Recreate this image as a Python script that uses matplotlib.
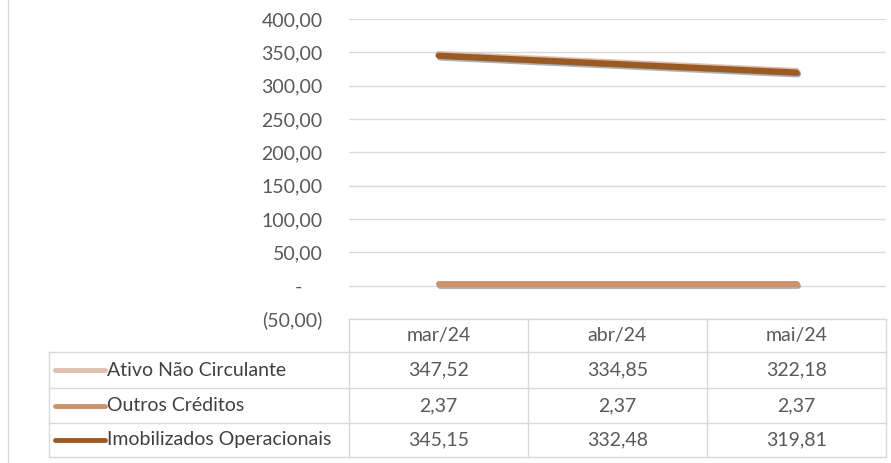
import matplotlib.pyplot as plt
import matplotlib.patheffects as pe
from matplotlib.ticker import FuncFormatter

plt.rcParams['font.family'] = ['Lato', 'DejaVu Sans']

meses = ['mar/24', 'abr/24', 'mai/24']
series = ['Ativo Não Circulante', 'Outros Créditos', 'Imobilizados Operacionais']
ativo_nao_circulante = [347.52, 334.85, 322.18]
outros_creditos = [2.37, 2.37, 2.37]
imobilizados = [345.15, 332.48, 319.81]
valores = [ativo_nao_circulante, outros_creditos, imobilizados]
cores = ['#DFBFAD', '#CC926E', '#9C5A23']

W, H = 891, 463
FS = 14
fig = plt.figure(figsize=(W / 100, H / 100), dpi=100)

# area do grafico (pixels)
x0, x1 = 349, 886
y_top, y_bot = 19, 319
ax = fig.add_axes([x0 / W, 1 - y_bot / H, (x1 - x0) / W, (y_bot - y_top) / H])

x = range(len(meses))
for vals, cor in zip(valores, cores):
    ax.plot(x, vals, color=cor, lw=4.3, solid_capstyle='round', zorder=3,
            path_effects=[pe.SimpleLineShadow(offset=(1, -1.5), shadow_color='#000000', alpha=0.3),
                          pe.Normal()])

ax.set_xlim(-0.5, len(meses) - 0.5)
ax.set_ylim(-50, 400)
ax.set_yticks(range(-50, 401, 50))


def fmt(v, pos):
    if v == 0:
        return '-    '
    s = f'{abs(v):,.2f}'.replace(',', 'X').replace('.', ',').replace('X', '.')
    return f'({s})' if v < 0 else s


ax.yaxis.set_major_formatter(FuncFormatter(fmt))
ax.tick_params(axis='y', length=0, pad=19, labelsize=FS, labelcolor='#595959')
ax.set_xticks([])
ax.grid(axis='y', color='#D9D9D9', lw=1)
ax.set_axisbelow(True)
for s in ax.spines.values():
    s.set_visible(False)

# tabela de dados
tab = fig.add_axes([0, 0, 1, 1])
tab.set_xlim(0, W)
tab.set_ylim(H, 0)
tab.axis('off')
linha = '#D9D9D9'
cols = [349, 528, 707, 886]
rows = [319, 352, 388, 423, 457]
leg_x = 49

# borda esquerda
tab.plot([8, 8], [0, H], color=linha, lw=1)

# linhas horizontais
tab.plot([cols[0], cols[-1]], [rows[0], rows[0]], color=linha, lw=1)
for r in rows[1:]:
    tab.plot([leg_x, cols[-1]], [r, r], color=linha, lw=1)
# linhas verticais
tab.plot([leg_x, leg_x], [rows[1], rows[-1]], color=linha, lw=1)
for c in cols:
    tab.plot([c, c], [rows[0], rows[-1]], color=linha, lw=1)

for j, m in enumerate(meses):
    tab.text((cols[j] + cols[j + 1]) / 2, (rows[0] + rows[1]) / 2, m,
             ha='center', va='center', fontsize=FS, color='#595959')

for i, (nome, vals, cor) in enumerate(zip(series, valores, cores)):
    yc = (rows[i + 1] + rows[i + 2]) / 2
    tab.plot([55, 105], [yc, yc], color=cor, lw=3.5, solid_capstyle='round')
    tab.text(107, yc, nome, ha='left', va='center', fontsize=FS, color='#404040')
    for j, v in enumerate(vals):
        tab.text((cols[j] + cols[j + 1]) / 2, yc, f'{v:.2f}'.replace('.', ','),
                 ha='center', va='center', fontsize=FS, color='#595959')

fig.savefig('out.png', dpi=100)
